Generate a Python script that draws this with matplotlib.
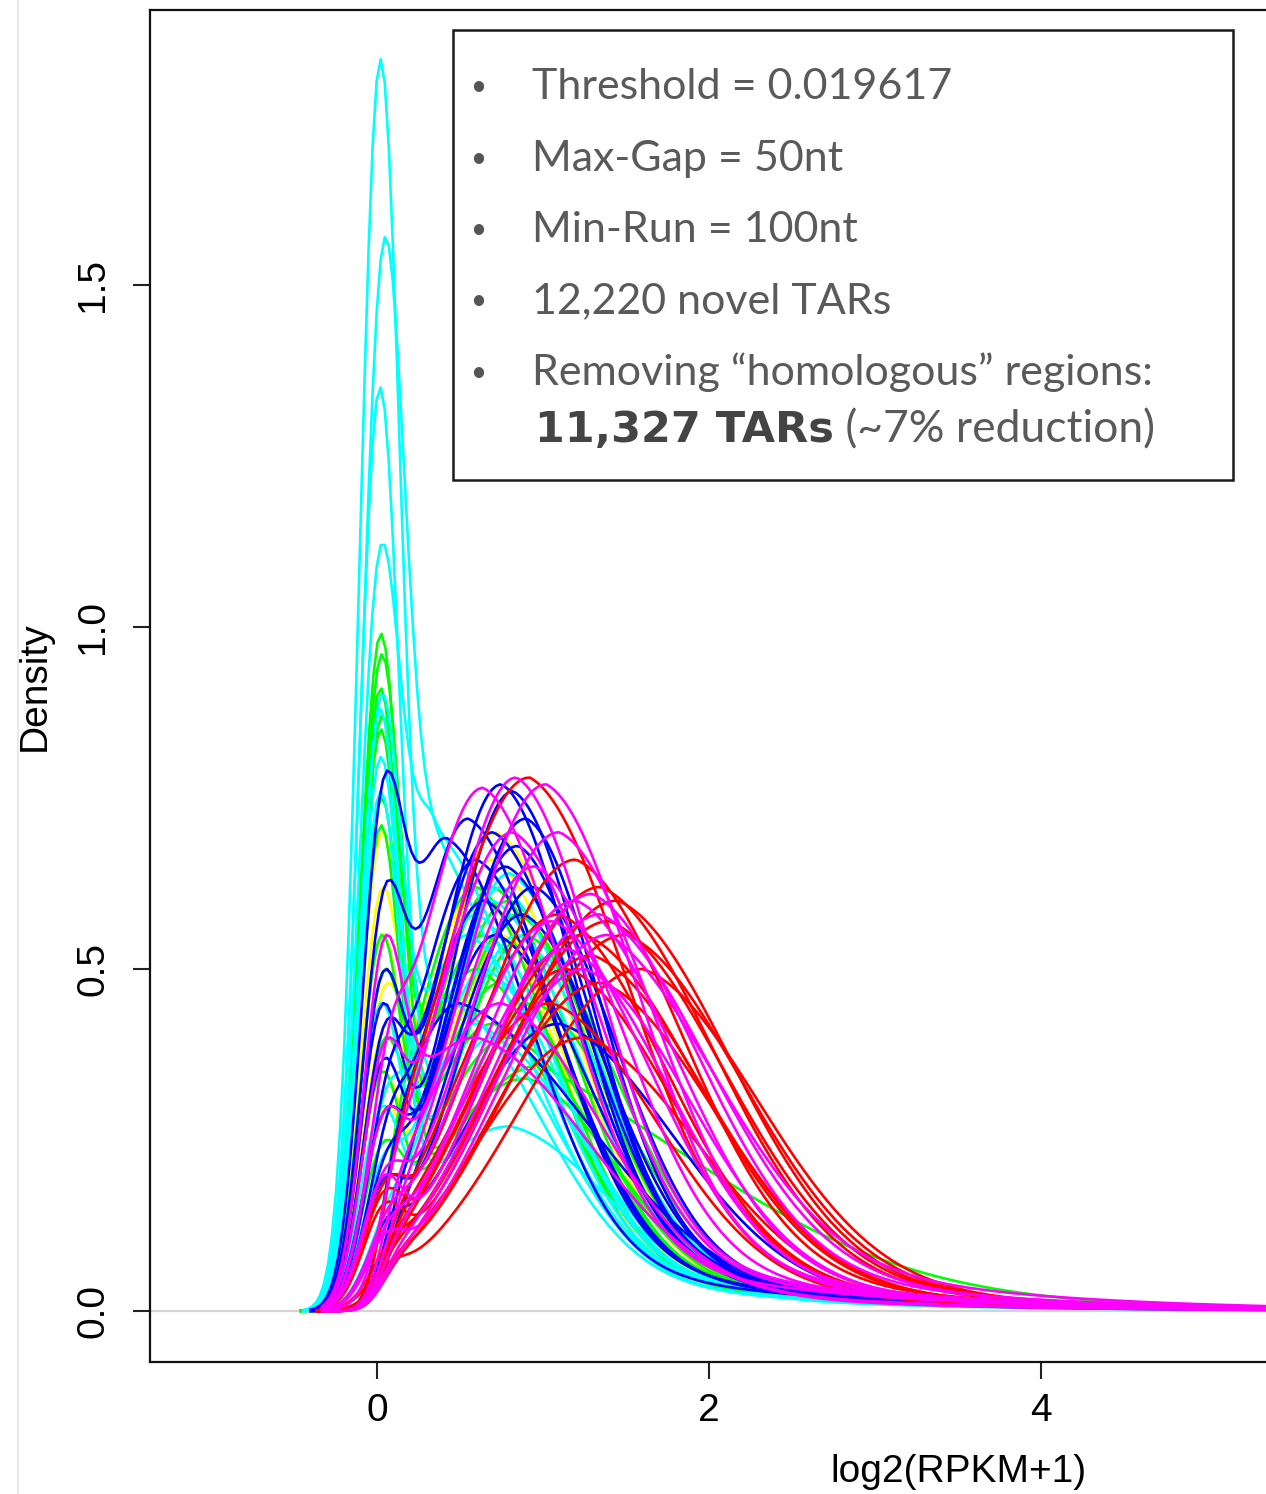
import math

import matplotlib
matplotlib.use("Agg")
import matplotlib.pyplot as plt
import numpy as np
from matplotlib.lines import Line2D
from matplotlib.patches import Rectangle

# ---- data: one entry per sample curve ----
# spike = height of the near-zero peak, peak_x / peak_h = main hump,
# left_sd / right_sd = hump widths, tail = share of the slow right tail
cyan_spike = [1.83, 1.57, 1.35, 1.12, 0.90, 0.88, 0.81, 0.76, 0.45, 0.35, 0.30, 0.25, 0.20]
cyan_peak_x = [0.45, 0.22, 0.60, 0.34, 0.55, 0.70, 0.65, 0.80, 0.75, 0.60, 0.85, 0.70, 0.80]
cyan_peak_h = [0.45, 0.72, 0.42, 0.70, 0.55, 0.40, 0.50, 0.27, 0.62, 0.58, 0.55, 0.60, 0.64]
cyan_left_sd = [0.35, 0.22, 0.35, 0.18, 0.35, 0.40, 0.35, 0.60, 0.35, 0.35, 0.40, 0.35, 0.40]
cyan_right_sd = [0.55, 0.60, 0.50, 0.55, 0.50, 0.55, 0.50, 0.60, 0.50, 0.48, 0.50, 0.52, 0.50]
cyan_tail = [0.22, 0.22, 0.22, 0.22, 0.22, 0.22, 0.22, 0.22, 0.22, 0.22, 0.22, 0.22, 0.22]

green_spike = [0.99, 0.96, 0.91, 0.87, 0.85, 0.75, 0.71, 0.55, 0.50, 0.40, 0.35, 0.30, 0.25]
green_peak_x = [0.70, 0.60, 0.90, 0.65, 0.80, 0.75, 1.00, 0.85, 0.70, 0.80, 0.95, 0.60, 0.90]
green_peak_h = [0.42, 0.50, 0.34, 0.55, 0.40, 0.48, 0.36, 0.58, 0.62, 0.60, 0.45, 0.62, 0.55]
green_left_sd = [0.45, 0.40, 0.60, 0.40, 0.50, 0.45, 0.65, 0.45, 0.40, 0.45, 0.50, 0.40, 0.45]
green_right_sd = [0.50, 0.50, 0.55, 0.48, 0.55, 0.50, 1.20, 0.50, 0.48, 0.50, 0.55, 0.45, 0.55]
green_tail = [0.20, 0.20, 0.20, 0.20, 0.20, 0.20, 0.50, 0.20, 0.20, 0.20, 0.20, 0.20, 0.20]

yellow_spike = [0.70, 0.62, 0.55, 0.48, 0.42, 0.35, 0.30]
yellow_peak_x = [0.72, 0.65, 0.78, 0.60, 0.70, 0.85, 0.75]
yellow_peak_h = [0.70, 0.60, 0.65, 0.62, 0.66, 0.58, 0.55]
yellow_left_sd = [0.38, 0.36, 0.40, 0.35, 0.38, 0.42, 0.38]
yellow_right_sd = [0.50, 0.48, 0.50, 0.48, 0.50, 0.52, 0.50]
yellow_tail = [0.20, 0.20, 0.20, 0.20, 0.20, 0.20, 0.20]

blue_spike = [0.79, 0.63, 0.50, 0.45, 0.43, 0.40, 0.37, 0.33, 0.30, 0.26, 0.23, 0.20, 0.18, 0.15, 0.12]
blue_peak_x = [0.42, 0.55, 0.75, 0.82, 0.70, 0.60, 0.90, 0.65, 0.78, 0.85, 0.50, 0.95, 0.72, 1.10, 0.88]
blue_peak_h = [0.69, 0.72, 0.77, 0.76, 0.70, 0.66, 0.72, 0.60, 0.65, 0.68, 0.45, 0.62, 0.55, 0.42, 0.58]
blue_left_sd = [0.28, 0.35, 0.40, 0.40, 0.40, 0.38, 0.45, 0.40, 0.40, 0.45, 0.40, 0.45, 0.40, 0.60, 0.45]
blue_right_sd = [0.50, 0.50, 0.45, 0.45, 0.50, 0.50, 0.45, 0.50, 0.50, 0.45, 0.80, 0.50, 0.55, 0.70, 0.50]
blue_tail = [0.20, 0.20, 0.20, 0.20, 0.20, 0.20, 0.20, 0.20, 0.20, 0.20, 0.20, 0.20, 0.20, 0.20, 0.20]

red_spike = [0.24, 0.20, 0.18, 0.16, 0.15, 0.13, 0.12, 0.11, 0.10, 0.09, 0.09, 0.08, 0.08, 0.07]
red_peak_x = [0.92, 1.20, 1.35, 1.45, 1.10, 1.25, 1.40, 1.30, 1.15, 1.50, 1.05, 1.35, 1.60, 1.25]
red_peak_h = [0.78, 0.66, 0.62, 0.60, 0.58, 0.55, 0.57, 0.52, 0.50, 0.55, 0.45, 0.48, 0.50, 0.40]
red_left_sd = [0.55, 0.60, 0.65, 0.68, 0.60, 0.65, 0.68, 0.65, 0.60, 0.70, 0.60, 0.65, 0.72, 0.65]
red_right_sd = [0.60, 0.65, 0.70, 0.70, 0.65, 0.70, 0.72, 0.70, 0.65, 0.72, 0.65, 0.70, 0.72, 0.70]
red_tail = [0.20, 0.20, 0.20, 0.20, 0.20, 0.20, 0.20, 0.20, 0.20, 0.20, 0.20, 0.20, 0.20, 0.20]

magenta_spike = [0.55, 0.46, 0.40, 0.30, 0.25, 0.22, 0.20, 0.17, 0.15, 0.13, 0.12, 0.11, 0.10, 0.09, 0.08]
magenta_peak_x = [0.60, 0.64, 0.84, 1.02, 0.82, 1.10, 1.30, 1.06, 1.20, 0.95, 1.40, 0.75, 1.15, 1.35, 1.25]
magenta_peak_h = [0.40, 0.765, 0.78, 0.77, 0.70, 0.70, 0.61, 0.57, 0.60, 0.65, 0.55, 0.45, 0.53, 0.58, 0.50]
magenta_left_sd = [0.60, 0.42, 0.45, 0.52, 0.48, 0.55, 0.62, 0.55, 0.60, 0.50, 0.65, 0.50, 0.60, 0.65, 0.60]
magenta_right_sd = [0.70, 0.50, 0.50, 0.55, 0.52, 0.58, 0.65, 0.60, 0.62, 0.55, 0.68, 0.60, 0.62, 0.68, 0.65]
magenta_tail = [0.20, 0.20, 0.20, 0.20, 0.20, 0.20, 0.25, 0.20, 0.20, 0.20, 0.35, 0.20, 0.20, 0.25, 0.20]

x_ticks = [0, 2, 4]
y_ticks = [0.0, 0.5, 1.0, 1.5]
notes = [
    "Threshold = 0.019617",
    "Max-Gap = 50nt",
    "Min-Run = 100nt",
    "12,220 novel TARs",
    "Removing \u201chomologous\u201d regions:",
]
note_bold = "11,327 TARs"
note_tail = " (~7% reduction)"

BW = 0.12        # kernel bandwidth of the density curves
TAIL_TAU = 1.2   # decay length of the right tail
X_END = 12.0
X0 = 0.01        # where the near-zero spike sits

erf = np.frompyfunc(math.erf, 1, 1)


def hump(x, px, ph, lsd, rsd, tail):
    left = np.exp(-0.5 * ((x - px) / lsd) ** 2)
    right = (1 - tail) * np.exp(-0.5 * ((x - px) / rsd) ** 2) + tail * np.exp(-(x - px) / TAIL_TAU)
    edge = 0.5 * (1 + erf(np.asarray(x) / BW).astype(float))
    return ph * np.where(x < px, left, right) * edge


def curve(x, spike, px, ph, lsd, rsd, tail):
    base = hump(x, px, ph, lsd, rsd, tail)
    kernel = np.exp(-0.5 * ((x - X0) / BW) ** 2)
    near = (x > -0.1) & (x < 0.15)
    # pick the spike amplitude so the local maximum near zero hits the read height
    amp = max(spike - float(np.interp(X0, x, base)), 0.0)
    for _ in range(6):
        y = amp * kernel + base
        amp = max(amp + spike - y[near].max(), 0.0)
    return amp * kernel + base


groups = [
    ("#FFFF00", -0.42, yellow_spike, yellow_peak_x, yellow_peak_h, yellow_left_sd, yellow_right_sd, yellow_tail),
    ("#00FF00", -0.46, green_spike, green_peak_x, green_peak_h, green_left_sd, green_right_sd, green_tail),
    ("#00FFFF", -0.44, cyan_spike, cyan_peak_x, cyan_peak_h, cyan_left_sd, cyan_right_sd, cyan_tail),
    ("#0000FF", -0.40, blue_spike, blue_peak_x, blue_peak_h, blue_left_sd, blue_right_sd, blue_tail),
    ("#FF0000", -0.36, red_spike, red_peak_x, red_peak_h, red_left_sd, red_right_sd, red_tail),
    ("#FF00FF", -0.33, magenta_spike, magenta_peak_x, magenta_peak_h, magenta_left_sd, magenta_right_sd, magenta_tail),
]

W, H = 1266, 1494
fig = plt.figure(figsize=(W / 100, H / 100), dpi=100)
plt.rcParams["font.family"] = ["Liberation Sans", "DejaVu Sans"]

# axes box runs off the right edge of the picture, as in the source slide
ax_left, ax_right, ax_top, ax_bottom = 150, 1766, 10, 1362
ax = fig.add_axes([ax_left / W, 1 - ax_bottom / H, (ax_right - ax_left) / W, (ax_bottom - ax_top) / H])

ax.axhline(0, color="#d4d4d4", lw=1.6, zorder=1)

for color, start, spikes, pxs, phs, lsds, rsds, tails in groups:
    for s, px, ph, l, r, t in zip(spikes, pxs, phs, lsds, rsds, tails):
        x = np.linspace(start, X_END, 512)
        ax.plot(x, curve(x, s, px, ph, l, r, t), color=color, lw=1.9, zorder=2)

ax.set_xlim(-1.367, 8.367)
ax.set_ylim(-0.0746, 1.902)
ax.set_xticks(x_ticks)
ax.set_yticks(y_ticks)
ax.set_xticklabels([str(v) for v in x_ticks])
ax.set_yticklabels([f"{v:.1f}" for v in y_ticks], rotation=90, va="center")
ax.tick_params(axis="both", labelsize=28, length=12, width=1.5, pad=10, color="#222222")
ax.tick_params(axis="y", pad=16)
for sp in ax.spines.values():
    sp.set_linewidth(1.6)
    sp.set_color("#111111")
ax.set_xlabel("log2(RPKM+1)", fontsize=28, labelpad=18)
ax.set_ylabel("Density", fontsize=28, labelpad=16)

# slide edge line
fig.add_artist(Line2D([18 / W, 18 / W], [0, 1], color="#e6eaf0", lw=1.5))

# text box
box = Rectangle((453 / W, 1 - 480 / H), 780 / W, 450 / H, transform=fig.transFigure,
                facecolor="white", edgecolor="#1a1a1a", lw=1.8, zorder=5)
fig.add_artist(box)

note_font = ["Lato", "DejaVu Sans"]
baselines = [99, 171, 242, 313, 385]
for text, yb in zip(notes, baselines):
    fig.text(478 / W, 1 - (yb - 12) / H, "\u2022", fontsize=20, color="#555555",
             ha="center", va="center", family=note_font, zorder=6)
    fig.text(532 / W, 1 - yb / H, text, fontsize=31, color="#5a5a5a", va="baseline",
             family=note_font, weight="normal", zorder=6)

t_bold = fig.text(535 / W, 1 - 442 / H, note_bold, fontsize=31, color="#444444", va="baseline",
                  family=["DejaVu Sans"], weight="bold", zorder=6)
fig.canvas.draw()
bb = t_bold.get_window_extent()
fig.text(bb.x1 / W, 1 - 442 / H, note_tail, fontsize=32, color="#5a5a5a", va="baseline",
         family=note_font, weight="normal", zorder=6)

fig.savefig("out.png", dpi=100)
